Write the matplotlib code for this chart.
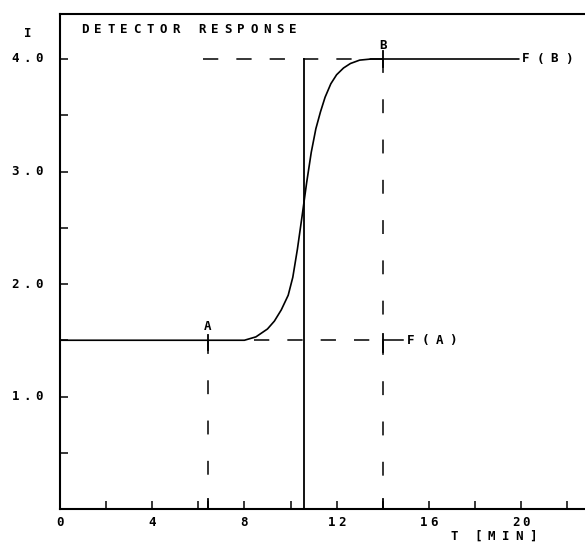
import matplotlib
matplotlib.use("Agg")
import matplotlib.pyplot as plt
import matplotlib.transforms as mtransforms

DPI = 100

# detector response curve
t_curve = [0, 8.0, 8.5, 9.0, 9.3, 9.6, 9.9, 10.1, 10.3, 10.5, 10.7, 10.9,
           11.1, 11.3, 11.5, 11.75, 12.0, 12.3, 12.6, 13.0, 13.5, 19.9]
i_curve = [1.5, 1.5, 1.53, 1.6, 1.67, 1.77, 1.90, 2.06, 2.31, 2.60, 2.90,
           3.17, 3.38, 3.53, 3.66, 3.78, 3.86, 3.92, 3.96, 3.99, 4.0, 4.0]

t_a, f_a = 6.42, 1.5
t_b, f_b = 14.0, 4.0
t_mid = 10.6

x_ticks = [0, 4, 8, 12, 16, 20]
x_minor = [2, 6, 10, 14, 18, 22]
y_ticks = [1.0, 2.0, 3.0, 4.0]
y_minor = [0.5, 1.5, 2.5, 3.5]

FONT = "DejaVu Sans Mono"


def plotter_text(ax, x, y, s, pitch=13, size=9, ha="left", dx=0, dy=0,
                 transform=None):
    # draw text one char at a time with a fixed pitch (pixels), pen-plotter style
    base = transform if transform is not None else ax.transData
    n = len(s)
    if ha == "center":
        start = -(n - 1) / 2 * pitch
    elif ha == "right":
        start = -(n - 1) * pitch
    else:
        start = 0
    for i, ch in enumerate(s):
        if ch == " ":
            continue
        off = (start + i * pitch + dx) * 72 / DPI
        tr = mtransforms.offset_copy(base, fig=ax.figure, x=off,
                                     y=dy * 72 / DPI, units="points")
        ax.text(x, y, ch, transform=tr, ha="center", va="center",
                fontsize=size, family=FONT, fontweight="bold", clip_on=False)


plt.rcParams["lines.scale_dashes"] = False

fig = plt.figure(figsize=(585 / DPI, 543 / DPI), dpi=DPI)
ax = fig.add_axes([60 / 585, 34 / 543, 525 / 585, 495 / 543])

ax.set_xlim(0, 525 / 23.05)
ax.set_ylim(0, 495 / 112.5)

# curve
ax.plot(t_curve, i_curve, color="black", lw=1.2)

# vertical line at the inflection
ax.plot([t_mid, t_mid], [0, f_b], color="black", lw=1.3)

hdash = (11, 13)
vdash = (10, 19)

# F(A) level
ax.plot([8.4, t_b], [f_a, f_a], color="black", lw=1.1, dashes=hdash)
ax.plot([t_b, 14.9], [f_a, f_a], color="black", lw=1.1)
ax.plot([t_b, t_b], [f_a - 0.1, f_a + 0.06], color="black", lw=1.3)

# F(B) level
ax.plot([6.2, t_b], [f_b, f_b], color="black", lw=1.1, dashes=hdash)
ax.plot([t_b, t_b], [f_b - 0.07, f_b + 0.07], color="black", lw=1.3)

# drop lines from A and B
ax.plot([t_a, t_a], [f_a, 0], color="black", lw=1.1, dashes=vdash)
ax.plot([t_a, t_a], [f_a - 0.09, f_a + 0.05], color="black", lw=1.3)
ax.plot([t_b, t_b], [f_b, 0], color="black", lw=1.1, dashes=vdash)
ax.plot([t_a, t_a], [0, 0.09], color="black", lw=1.3)
ax.plot([t_b, t_b], [0, 0.09], color="black", lw=1.3)

# axes frame
for side in ["left", "bottom", "top"]:
    ax.spines[side].set_linewidth(1.5)
ax.spines["right"].set_visible(False)

ax.set_xticks(x_ticks)
ax.set_xticks(x_minor, minor=True)
ax.set_yticks(y_ticks)
ax.set_yticks(y_minor, minor=True)
ax.tick_params(which="both", direction="in", length=6, width=1.1,
               labelbottom=False, labelleft=False)

# tick labels drawn in plotter lettering
xt = mtransforms.blended_transform_factory(ax.transData, ax.transAxes)
yt = mtransforms.blended_transform_factory(ax.transAxes, ax.transData)
for v in x_ticks:
    plotter_text(ax, v, 0, str(v), pitch=10, ha="center", dy=-14, transform=xt)
for v in y_ticks:
    plotter_text(ax, 0, v, f"{v:.1f}", pitch=11.5, ha="center", dx=-33,
                 transform=yt)

plotter_text(ax, 0, 4.23, "I", ha="center", dx=-32, transform=yt)
plotter_text(ax, 1.08, 4.26, "DETECTOR RESPONSE", pitch=13)
plotter_text(ax, t_a, 1.62, "A")
plotter_text(ax, t_b, 4.12, "B")
plotter_text(ax, 15.23, f_a, "F(A)", pitch=14)
plotter_text(ax, 20.2, f_b, "F(B)", pitch=14.3)
plotter_text(ax, 17.09, 0, "T", dy=-27, transform=xt)
plotter_text(ax, 18.13, 0, "[MIN]", pitch=13.8, dy=-27, transform=xt)

fig.savefig("out.png", dpi=DPI)
